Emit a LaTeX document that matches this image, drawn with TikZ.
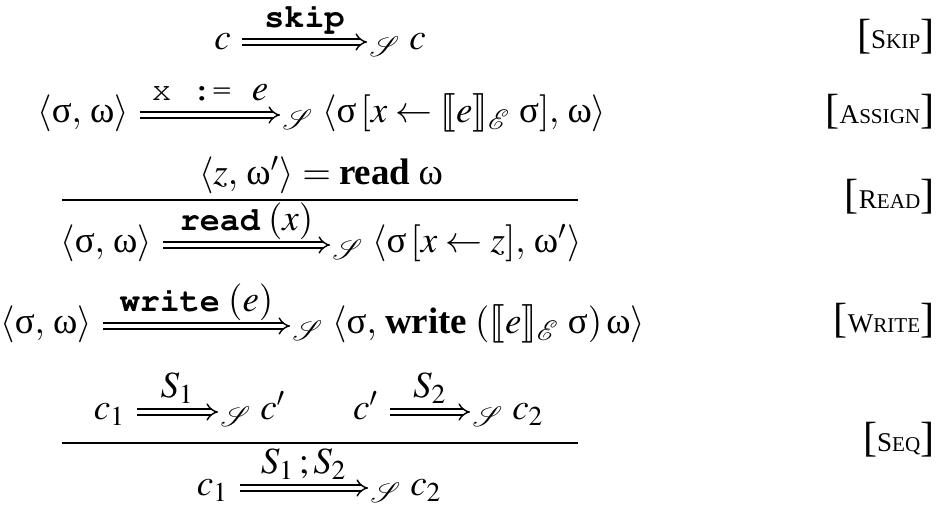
\documentclass[tikz,border=0pt]{standalone}
\usepackage{mathptmx}
\usepackage{mathrsfs}
\usepackage{stmaryrd}
\usepackage[no-math]{fontspec}
\setmainfont{Liberation Serif}
\usetikzlibrary{positioning,arrows.meta}
\newcommand{\cour}{\fontencoding{T1}\fontfamily{pcr}\fontsize{9.5}{11}\selectfont}
\newcommand{\kw}[1]{{\cour\bfseries #1}}
\newcommand{\vsig}{\textup{σ}}
\newcommand{\vom}{\textup{ω}}
\newcommand{\semE}[1]{\llbracket #1\rrbracket_{\mathscr{E}}}
\newcommand{\viaS}{{}_{\mathscr{S}}\;}
\newcommand{\rulenm}[2]{{\fontsize{12}{14}\selectfont[}#1{\fontsize{6}{8}\selectfont #2}{\fontsize{12}{14}\selectfont]}}
\tikzstyle{term} = [font=\fontsize{10.5}{12.6}\selectfont,
                    inner xsep=3pt,
                    inner ysep=0pt,
                    text height=0.7em,
                    text depth=0.25em]
\tikzstyle{goal} = [term,
                    inner xsep=0.5pt]
\tikzstyle{imp} = [double,
                   double distance=1.3pt,
                   line width=0.4pt,
                   -{Implies}]
\tikzstyle{lbl} = [above,
                   font=\fontsize{10.5}{12.6}\selectfont,
                   text depth=0.25em,
                   inner sep=1.3pt]
\tikzstyle{rulename} = [anchor=base east,
                        font=\fontsize{7.7}{10}\selectfont,
                        inner sep=0pt]

\begin{document}
\begin{tikzpicture}[x=0.01cm, y=-0.01cm]
\useasboundingbox (0,0) rectangle (941,513);
% skip
\node (l1) [term, anchor=east] at (242,42) {$c$};
\node (r1) [goal, right=1.25cm of l1] {$\viaS c$};
\draw[imp] (l1) -- node[lbl] {\kw{skip}} (r1);
\node (n1) [rulename] at (935,49) {\rulenm{S}{KIP}};
% assign
\node (l2) [term, anchor=east] at (140,115) {$\langle\vsig,\,\vom\rangle$};
\node (r2) [goal, right=1.40cm of l2] {$\viaS\langle\vsig\,[x\leftarrow\semE{e}\;\vsig],\,\vom\rangle$};
\draw[imp] (l2) -- node[lbl] {{\cour x := }$e$} (r2);
\node (n2) [rulename] at (935,124) {\rulenm{A}{SSIGN}};
% read
\node (p3) [term] at (321,177) {$\langle z,\,\vom'\rangle = \textbf{read}\;\vom$};
\draw[line width=0.5pt] (62,200) -- (578,200);
\node (l3) [term, anchor=east] at (163,245) {$\langle\vsig,\,\vom\rangle$};
\node (r3) [goal, right=1.67cm of l3] {$\viaS\langle\vsig\,[x\leftarrow z],\,\vom'\rangle$};
\draw[imp] (l3) -- node[lbl] {\kw{read}$\;(x)$} (r3);
\node (n3) [rulename] at (935,209) {\rulenm{R}{EAD}};
% write
\node (l4) [term, anchor=east] at (103,326) {$\langle\vsig,\,\vom\rangle$};
\node (r4) [goal, right=1.87cm of l4] {$\viaS\langle\vsig,\,\textbf{write}\;(\semE{e}\;\vsig)\,\vom\rangle$};
\draw[imp] (l4) -- node[lbl] {\kw{write}$\;(e)$} (r4);
\node (n4) [rulename] at (935,333) {\rulenm{W}{RITE}};
% seq
\node (l5) [term, anchor=east] at (137,412) {$c_1$};
\node (r5) [goal, right=0.81cm of l5] {$\viaS c'$};
\draw[imp] (l5) -- node[lbl] {$S_1$} (r5);
\node (l6) [term, anchor=east] at (390,412) {$c'$};
\node (r6) [goal, right=0.80cm of l6] {$\viaS c_2$};
\draw[imp] (l6) -- node[lbl] {$S_2$} (r6);
\draw[line width=0.5pt] (62,443) -- (578,443);
\node (l7) [term, anchor=east] at (240,488) {$c_1$};
\node (r7) [goal, right=1.28cm of l7] {$\viaS c_2$};
\draw[imp] (l7) -- node[lbl] {$S_1\,;S_2$} (r7);
\node (n5) [rulename] at (935,452) {\rulenm{S}{EQ}};
\end{tikzpicture}
\end{document}
